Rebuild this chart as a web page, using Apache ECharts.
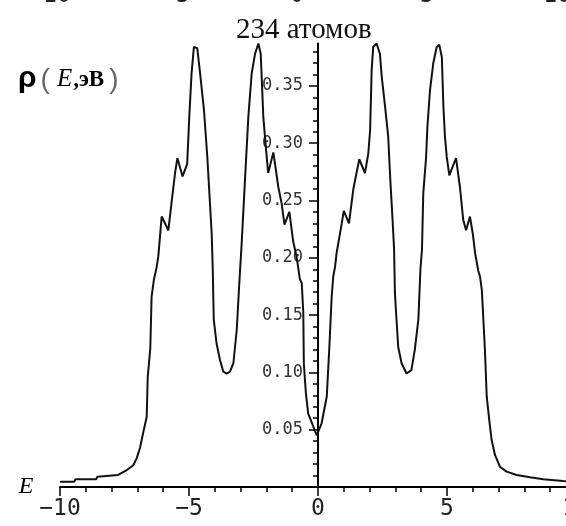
<!DOCTYPE html>
<html><head><meta charset="utf-8">
<script src="https://cdn.jsdelivr.net/npm/echarts@6/dist/echarts.min.js"></script>
<style>html,body{margin:0;padding:0;background:#fff;overflow:hidden}#c{width:566px;height:526px}</style>
</head><body><div id="c"></div>
<script>
// Energy, eV
const energy = [
  -10.0,-9.45,-9.4,-8.6,-8.55,-7.75,-7.41,-7.16,-7.03,-6.9,
  -6.77,-6.64,-6.6,-6.5,-6.45,-6.36,-6.26,-6.19,-6.06,-6.0,
  -5.8,-5.68,-5.54,-5.45,-5.25,-5.07,-4.99,-4.9,-4.81,-4.68,
  -4.57,-4.42,-4.29,-4.12,-4.08,-4.04,-3.93,-3.8,-3.67,-3.54,
  -3.41,-3.28,-3.15,-3.05,-2.96,-2.83,-2.7,-2.57,-2.44,-2.31,
  -2.22,-2.12,-2.02,-1.93,-1.73,-1.54,-1.41,-1.3,-1.11,-0.96,
  -0.83,-0.7,-0.63,-0.57,-0.55,-0.47,-0.38,-0.18,-0.05,0.0,
  0.14,0.34,0.44,0.53,0.59,0.66,0.72,0.92,1.0,1.2,
  1.37,1.6,1.82,1.95,2.02,2.08,2.14,2.27,2.4,2.47,
  2.6,2.72,2.81,2.89,2.95,2.98,3.02,3.11,3.24,3.43,
  3.62,3.75,3.89,3.97,4.03,4.08,4.19,4.24,4.34,4.47,
  4.6,4.7,4.8,4.86,4.92,4.99,5.09,5.22,5.35,5.5,
  5.63,5.74,5.89,6.0,6.09,6.21,6.28,6.35,6.41,6.47,
  6.54,6.64,6.73,6.86,7.05,7.31,7.7,8.22,8.73,9.5,
  10.0
];
// Density of states rho(E)
const rho = [
  0.0046,0.0046,0.0067,0.0067,0.009,0.0105,0.0148,0.019,0.025,0.034,
  0.048,0.061,0.096,0.121,0.166,0.181,0.191,0.201,0.236,0.237,
  0.224,0.2475,0.274,0.287,0.271,0.282,0.323,0.361,0.384,0.383,
  0.361,0.329,0.288,0.221,0.19,0.146,0.125,0.111,0.1006,0.099,
  0.1006,0.108,0.137,0.178,0.212,0.268,0.323,0.361,0.378,0.387,
  0.378,0.323,0.296,0.274,0.292,0.262,0.2475,0.229,0.240,0.214,
  0.201,0.181,0.178,0.152,0.108,0.082,0.064,0.0526,0.045,0.045,
  0.0556,0.079,0.122,0.166,0.1835,0.192,0.204,0.230,0.241,0.230,
  0.260,0.286,0.274,0.291,0.3115,0.364,0.384,0.387,0.378,0.358,
  0.332,0.306,0.265,0.233,0.207,0.17,0.1545,0.122,0.108,0.099,
  0.102,0.1195,0.146,0.19,0.207,0.256,0.288,0.314,0.346,0.370,
  0.384,0.386,0.375,0.332,0.306,0.288,0.272,0.2795,0.287,0.262,
  0.233,0.224,0.236,0.221,0.204,0.189,0.1835,0.172,0.146,0.1195,
  0.079,0.058,0.041,0.028,0.0177,0.0134,0.0105,0.0085,0.0067,0.0052,
  0.0046
];
const xMin = -10, xMax = 10;
const yTickValues = [0, 0.05, 0.10, 0.15, 0.20, 0.25, 0.30, 0.35];
const yLabelValues = [0.05, 0.10, 0.15, 0.20, 0.25, 0.30, 0.35];
const titleText = '234 атомов';
const xName = 'E';
const clippedTopLabels = ['-10', '-5', '0', '5', '10'];

const chart = echarts.init(document.getElementById('c'), null, {renderer: 'canvas'});
const seriesData = energy.map((e, i) => [e, rho[i]]);
const minus = s => String(s).replace('-', '\u2212');
const monoX = 'DejaVu Sans Mono';

const gridLeft = 60, gridWidth = 516;
// place the y axis at E = 0 (derived from the x scale)
const yAxisOffset = -gridWidth * (0 - xMin) / (xMax - xMin);

const topXs = [50, 176, 297, 427, 557];
const topLabelGraphics = clippedTopLabels.map((t, i) => ({
  type: 'text', x: topXs[i], y: 8,
  style: {text: minus(t), font: '23px "DejaVu Sans Mono"', fill: '#222', align: 'center', verticalAlign: 'bottom'}
}));

chart.setOption({
  animation: false,
  backgroundColor: '#fff',
  title: {
    text: titleText, left: 231, top: 11,
    textStyle: {fontFamily: 'Liberation Serif', fontSize: 29, fontWeight: 'normal', color: '#111'}
  },
  grid: {left: gridLeft, top: 43.5, width: gridWidth, height: 443.5, containLabel: false, outerBoundsMode: 'none'},
  xAxis: {
    type: 'value', min: xMin, max: xMax, interval: 5,
    name: xName, nameLocation: 'start', nameGap: 18,
    nameTextStyle: {fontFamily: 'Liberation Serif', fontStyle: 'italic', fontSize: 24, color: '#000', padding: [0, 0, 12, 0]},
    axisLine: {onZero: true, lineStyle: {color: '#000', width: 2}},
    axisTick: {length: 9, lineStyle: {color: '#000', width: 1.5}},
    minorTick: {show: true, splitNumber: 5, length: 5, lineStyle: {color: '#000', width: 1.5}},
    splitLine: {show: false}, minorSplitLine: {show: false},
    axisLabel: {margin: 11, fontFamily: monoX, fontSize: 23, color: '#222', formatter: v => minus(v)}
  },
  yAxis: {
    type: 'value', min: 0, max: 0.387, interval: 0.05,
    position: 'left', offset: yAxisOffset,
    axisLine: {onZero: false, lineStyle: {color: '#000', width: 2}},
    axisTick: {length: 9, customValues: yTickValues, lineStyle: {color: '#000', width: 1.5}},
    minorTick: {show: true, splitNumber: 5, length: 5, lineStyle: {color: '#000', width: 1.5}},
    splitLine: {show: false}, minorSplitLine: {show: false},
    axisLabel: {customValues: yLabelValues, margin: 15, fontFamily: monoX, fontSize: 17, color: '#333',
      formatter: v => v.toFixed(2)}
  },
  graphic: [
    {
      type: 'text', x: 18, y: 64,
      style: {
        text: '{a|ρ}{p|(}{e|E}{b|,эВ}{q|)}',
        rich: {
          a: {fontFamily: 'Liberation Sans', fontWeight: 'bold', fontSize: 30, fill: '#000', verticalAlign: 'bottom', padding: [0, 3, 0, 0]},
          p: {fontFamily: 'Liberation Sans', fontSize: 28, fill: '#666', verticalAlign: 'bottom', padding: [0, 7, 0, 1]},
          q: {fontFamily: 'Liberation Sans', fontSize: 28, fill: '#666', verticalAlign: 'bottom', padding: [0, 0, 0, 5]},
          e: {fontFamily: 'Liberation Serif', fontStyle: 'italic', fontSize: 25, fill: '#000', verticalAlign: 'bottom', padding: [0, 1, 2, 0]},
          b: {fontFamily: 'Liberation Serif', fontWeight: 'bold', fontSize: 23, fill: '#000', verticalAlign: 'bottom', padding: [0, 0, 2, 0]}
        }
      }
    }
  ].concat(topLabelGraphics),
  series: [{
    type: 'line', data: seriesData, showSymbol: false, smooth: false,
    lineStyle: {color: '#111', width: 2}
  }]
});
</script></body></html>
